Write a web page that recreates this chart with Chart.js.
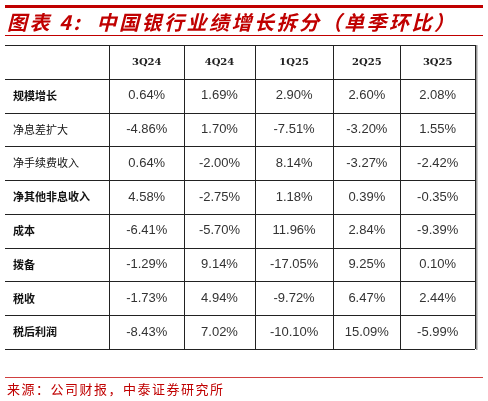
<!DOCTYPE html>
<html><head><meta charset="utf-8">
<script src="https://cdn.jsdelivr.net/npm/chart.js@4"></script>
<style>
body{margin:0;background:#fff;width:488px;height:401px;position:relative;overflow:hidden;font-family:"Noto Sans CJK SC",sans-serif}
#topline{position:absolute;left:5px;top:5px;width:478px;height:3px;background:#c00000}
#title{position:absolute;left:7px;top:7px;font-size:20px;font-weight:bold;font-style:italic;color:#c00000;letter-spacing:2.5px;white-space:nowrap}
#tline{position:absolute;left:5px;top:35px;width:478px;height:1px;background:#c00000}
#fline{position:absolute;left:5px;top:377px;width:478px;height:1px;background:#d04040}
#foot{position:absolute;left:7px;top:379px;font-size:13px;color:#c00000;letter-spacing:1.5px;white-space:nowrap}
#wrap{position:absolute;left:0;top:0;width:488px;height:401px}
</style></head><body>
<div id="wrap"><canvas id="c"></canvas></div>
<div id="topline"></div>
<div id="title">图表 4:&nbsp; 中国银行业绩增长拆分（单季环比）</div>
<div id="tline"></div>
<div id="fline"></div>
<div id="foot">来源：公司财报，中泰证券研究所</div>
<script>
const quarters = ['3Q24','4Q24','1Q25','2Q25','3Q25'];
const items = ['规模增长','净息差扩大','净手续费收入','净其他非息收入','成本','拨备','税收','税后利润'];
const boldItems = [true,false,false,true,true,true,true,true];
const values = [
  ['0.64%','1.69%','2.90%','2.60%','2.08%'],
  ['-4.86%','1.70%','-7.51%','-3.20%','1.55%'],
  ['0.64%','-2.00%','8.14%','-3.27%','-2.42%'],
  ['4.58%','-2.75%','1.18%','0.39%','-0.35%'],
  ['-6.41%','-5.70%','11.96%','2.84%','-9.39%'],
  ['-1.29%','9.14%','-17.05%','9.25%','0.10%'],
  ['-1.73%','4.94%','-9.72%','6.47%','2.44%'],
  ['-8.43%','7.02%','-10.10%','15.09%','-5.99%']
];
const colEdges = [0,1.4,2.4,3.35,4.4,5.3,6.3];

const tablePlugin = {
  id:'table',
  afterDraw(chart){
    const {ctx, scales:{x,y}} = chart;
    const X = v=>x.getPixelForValue(v), Y = v=>y.getPixelForValue(v);
    ctx.save();
    ctx.textBaseline='middle';
    ctx.fillStyle='#222';
    ctx.font='bold 10px "DejaVu Serif", serif';
    ctx.textAlign='center';
    quarters.forEach((q,i)=>ctx.fillText(q,(X(colEdges[i+1])+X(colEdges[i+2]))/2,Y(0.5)+1));
    items.forEach((it,r)=>{
      const cy=Y(r+1.5);
      ctx.textAlign='left';
      ctx.fillStyle='#111';
      ctx.font=(boldItems[r]?'bold ':'')+'11px "Noto Sans CJK SC", sans-serif';
      ctx.fillText(it,X(0)+8,cy);
      ctx.textAlign='center';
      ctx.fillStyle='#333';
      ctx.font='13px "Liberation Sans", sans-serif';
      values[r].forEach((v,i)=>ctx.fillText(v,(X(colEdges[i+1])+X(colEdges[i+2]))/2,cy));
    });
    ctx.strokeStyle='#222'; ctx.lineWidth=1;
    for(let r=0;r<=items.length+1;r++){
      const py=Math.round(Y(r))+0.5;
      ctx.beginPath();ctx.moveTo(X(0),py);ctx.lineTo(X(colEdges[6]),py);ctx.stroke();
    }
    colEdges.slice(1).forEach(c=>{
      const px=Math.round(X(c))+0.5;
      ctx.beginPath();ctx.moveTo(px,Y(0));ctx.lineTo(px,Y(items.length+1));ctx.stroke();
    });
    ctx.fillStyle='#999';
    ctx.fillRect(Math.round(X(colEdges[6]))+1,Y(0),1.5,Y(items.length+1)-Y(0)+1);
    ctx.restore();
  }
};

new Chart(document.getElementById('c'),{
  type:'scatter',
  data:{datasets:[{data:[]}]},
  options:{
    responsive:true,maintainAspectRatio:false,animation:false,
    layout:{padding:{left:5,right:13,top:45,bottom:52}},
    plugins:{legend:{display:false},tooltip:{enabled:false}},
    scales:{
      x:{type:'linear',min:0,max:6.3,display:false},
      y:{type:'linear',min:0,max:9,reverse:true,display:false}
    }
  },
  plugins:[tablePlugin]
});
</script></body></html>
